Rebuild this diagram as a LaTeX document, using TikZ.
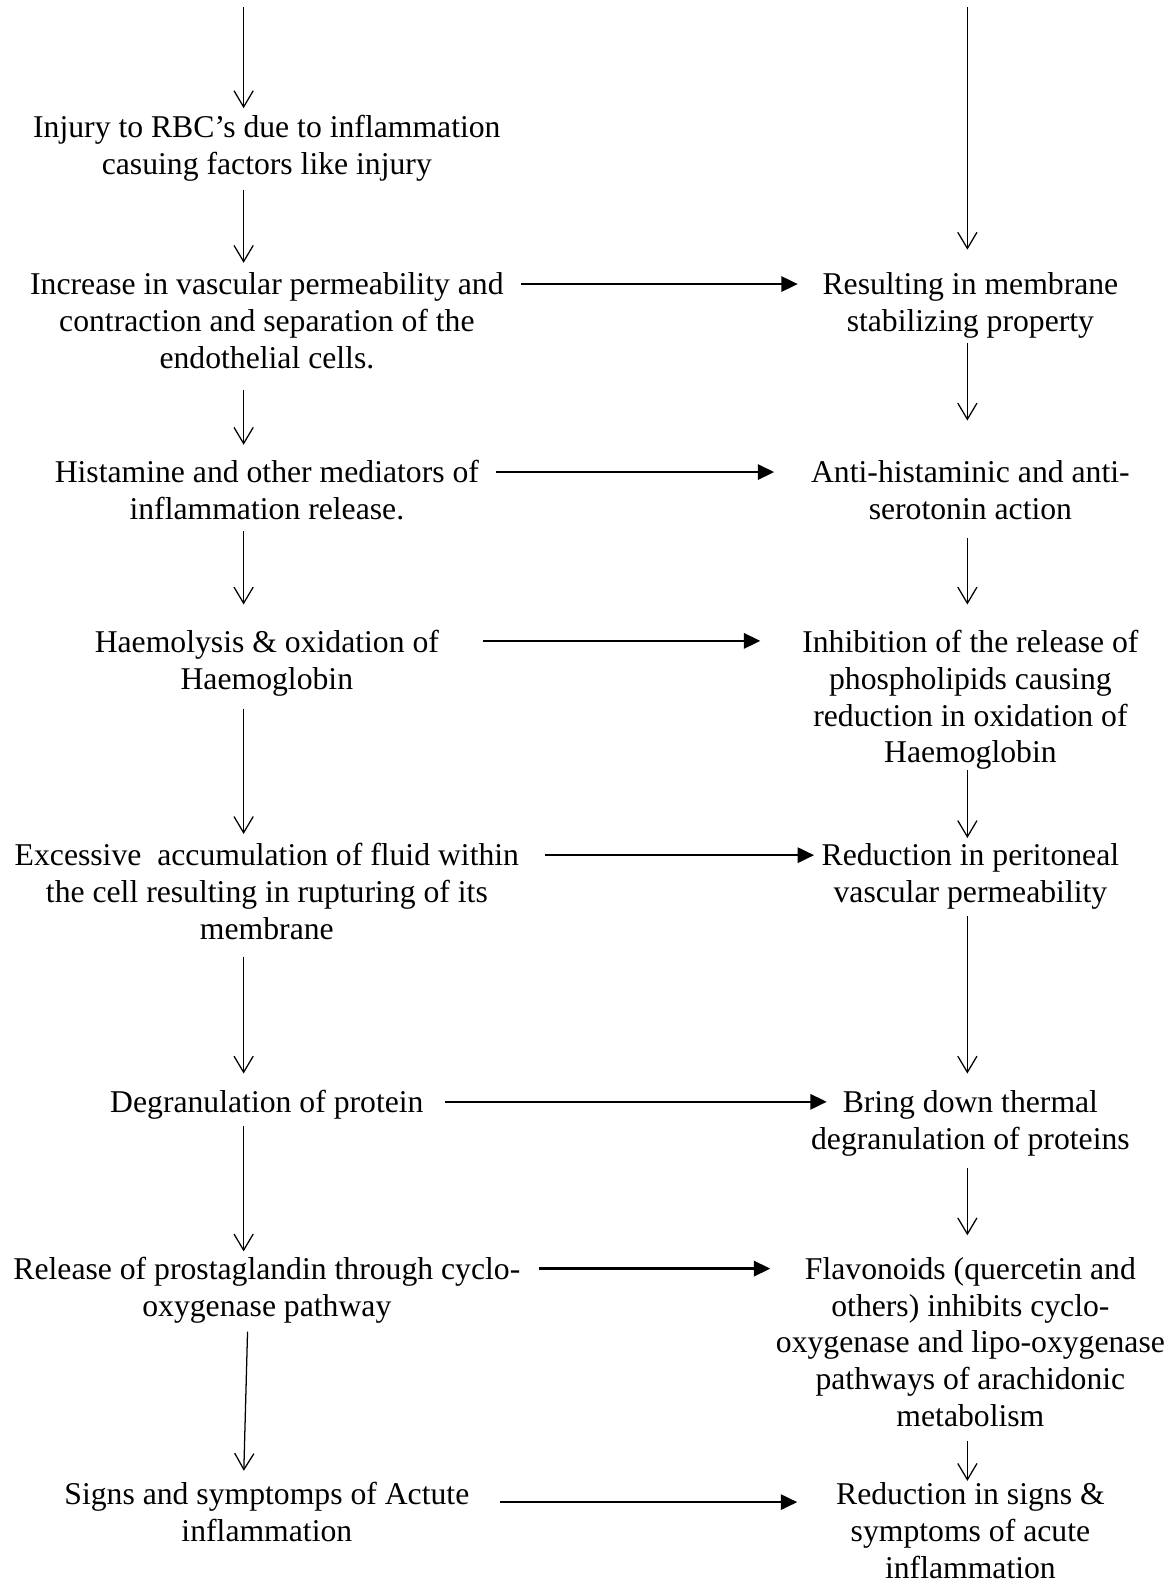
\documentclass[tikz,border=0pt]{standalone}
\usepackage{fontspec}
\setmainfont{Liberation Serif}
\usetikzlibrary{arrows.meta,calc}
\begin{document}
\begin{tikzpicture}[x=0.4pt,y=-0.4pt,
  txt/.style={align=center,inner sep=0pt,anchor=north,font=\fontsize{12.54pt}{14.56pt}\selectfont},
  varr/.style={line width=0.5pt,-{Straight Barb[length=6.4pt,width=7.6pt,line width=0.5pt]}},
  harr/.style={line width=1pt,-{Triangle[length=6.5pt,width=6pt]}}]
\useasboundingbox (0,0) rectangle (1161,1568);
\coordinate (L) at (241,0);
\coordinate (L2) at (245,0);
\coordinate (R) at (957,0);
\coordinate (s1) at (241,7);
\coordinate (s2) at (957,7);
% left column
\node[txt] (t1) at (264,110.5) {\strut Injury to RBC’s due to inflammation\\casuing factors like injury\strut};
\node[txt] (t2) at (264,265.5) {\strut Increase in vascular permeability and\\contraction and separation of the\\endothelial cells.\strut};
\node[txt] (t3) at (264,451.5) {\strut Histamine and other mediators of\\inflammation release.\strut};
\node[txt] (t4) at (264,619.5) {\strut Haemolysis \& oxidation of\\Haemoglobin\strut};
\node[txt] (t5) at (264,830.5) {\strut Excessive\ \ accumulation of fluid within\\the cell resulting in rupturing of its\\membrane\strut};
\node[txt] (t6) at (264,1074.5) {\strut Degranulation of protein\strut};
\node[txt] (t7) at (264,1239.5) {\strut Release of prostaglandin through cyclo-\\oxygenase pathway\strut};
\node[txt] (t8) at (264,1462.5) {\strut Signs and symptomps of Actute\\inflammation\strut};
% right column
\node[txt] (r1) at (960,265.5) {\strut Resulting in membrane\\stabilizing property\strut};
\node[txt] (r2) at (960,451.5) {\strut Anti-histaminic and anti-\\serotonin action\strut};
\node[txt] (r3) at (960,619.5) {\strut Inhibition of the release of\\phospholipids causing\\reduction in oxidation of\\Haemoglobin\strut};
\node[txt] (r4) at (960,830.5) {\strut Reduction in peritoneal\\vascular permeability\strut};
\node[txt] (r5) at (960,1074.5) {\strut Bring down thermal\\degranulation of proteins\strut};
\node[txt] (r6) at (960,1239.5) {\strut Flavonoids (quercetin and\\others) inhibits cyclo-\\oxygenase and lipo-oxygenase\\pathways of arachidonic\\metabolism\strut};
\node[txt] (r7) at (960,1462.5) {\strut Reduction in signs \&\\symptoms of acute\\inflammation\strut};
% left vertical arrows
\draw[varr,shorten >=1.4pt] (s1) -- (t1.north -| L);
\draw[varr,shorten <=1.6pt,shorten >=2.2pt] (t1.south -| L) -- (t2.north -| L);
\draw[varr,shorten <=4pt,shorten >=4.6pt] (t2.south -| L) -- (t3.north -| L);
\draw[varr,shorten >=8.6pt] (t3.south -| L) -- (t4.north -| L);
\draw[varr,shorten <=3.2pt,shorten >=2.2pt] (t4.south -| L) -- (t5.north -| L);
\draw[varr,shorten <=2.4pt,shorten >=5pt] (t5.south -| L) -- (t6.north -| L);
\draw[varr,shorten <=0.8pt,shorten >=0.6pt] (t6.south -| L) -- (t7.north -| L);
\draw[varr,shorten <=1.6pt,shorten >=3pt] (t7.south -| L2) -- (t8.north -| L);
% right vertical arrows
\draw[varr,shorten >=7.4pt] (s2) -- (r1.north -| R);
\draw[varr,shorten >=14.2pt] (r1.south -| R) -- (r2.north -| R);
\draw[varr,shorten <=2.8pt,shorten >=8.6pt] (r2.south -| R) -- (r3.north -| R);
\draw[varr,shorten <=-1.6pt,shorten >=0.6pt] (r3.south -| R) -- (r4.north -| R);
\draw[varr,shorten <=0.8pt,shorten >=5pt] (r4.south -| R) -- (r5.north -| R);
\draw[varr,shorten <=2.8pt,shorten >=7pt] (r5.south -| R) -- (r6.north -| R);
\draw[varr,shorten <=1.2pt,shorten >=-1pt] (r6.south -| R) -- (r7.north -| R);
% horizontal arrows
\draw[harr] ($(t2.north east)+(17,15.5)$) -- ($(r1.north west)+(-24,15.5)$);
\draw[harr] ($(t3.north east)+(16,15.5)$) -- ($(r2.north west)+(-36,15.5)$);
\draw[harr] ($(t4.north east)+(43,14.5)$) -- ($(r3.north west)+(-41,14.5)$);
\draw[harr] ($(t5.north east)+(25,15.5)$) -- ($(r4.north west)+(-7,15.5)$);
\draw[harr] ($(t6.north east)+(21,15.5)$) -- ($(r5.north west)+(16,15.5)$);
\draw[harr] ($(t7.north east)+(18,15.5)$) -- ($(r6.north west)+(-5,15.5)$);
\draw[harr] ($(t8.north east)+(30,23.5)$) -- ($(r7.north west)+(-38,23.5)$);
\end{tikzpicture}
\end{document}
